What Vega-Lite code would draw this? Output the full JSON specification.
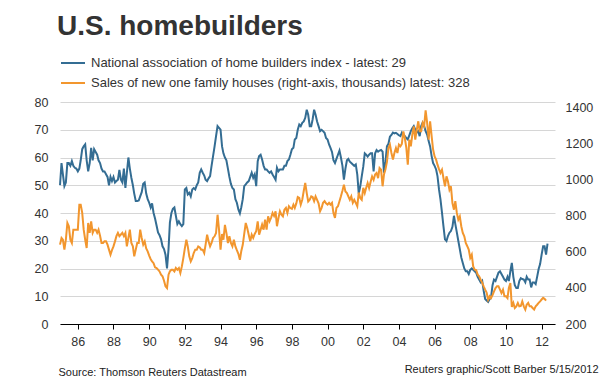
{
"$schema": "https://vega.github.io/schema/vega-lite/v6.json",
"width": 495,
"height": 222,
"autosize": {"type": "none"},
"padding": {"left": 60, "top": 102, "right": 56, "bottom": 60},
"background": "white",
"config": {"font": "Liberation Sans", "view": {"stroke": null}},
"title": {"text": "U.S. homebuilders", "anchor": "start", "frame": "group", "fontSize": 28, "fontWeight": "bold", "color": "#333333", "font": "Liberation Sans", "offset": 9, "dx": -3},
"data": {"values": [
{"d":"1985-01","h":50,"s":641},{"d":"1985-02","h":58,"s":678},{"d":"1985-03","h":54,"s":668},{"d":"1985-04","h":49.7,"s":613},{"d":"1985-05","h":51,"s":668},{"d":"1985-06","h":58,"s":761},{"d":"1985-07","h":58,"s":743},{"d":"1985-08","h":57,"s":668},{"d":"1985-09","h":58.7,"s":650},{"d":"1985-10","h":57,"s":724},{"d":"1985-11","h":56.3,"s":724},{"d":"1985-12","h":56,"s":724},
{"d":"1986-01","h":55,"s":724},{"d":"1986-02","h":56,"s":863},{"d":"1986-03","h":59,"s":863},{"d":"1986-04","h":63,"s":817},{"d":"1986-05","h":64,"s":724},{"d":"1986-06","h":64.7,"s":668},{"d":"1986-07","h":59,"s":622},{"d":"1986-08","h":55,"s":761},{"d":"1986-09","h":58,"s":706},{"d":"1986-10","h":63.5,"s":770},{"d":"1986-11","h":59,"s":706},{"d":"1986-12","h":63,"s":724},
{"d":"1987-01","h":62,"s":724},{"d":"1987-02","h":61,"s":706},{"d":"1987-03","h":59,"s":724},{"d":"1987-04","h":58,"s":690},{"d":"1987-05","h":56,"s":650},{"d":"1987-06","h":55,"s":650},{"d":"1987-07","h":55,"s":659},{"d":"1987-08","h":54,"s":659},{"d":"1987-09","h":53,"s":641},{"d":"1987-10","h":50,"s":613},{"d":"1987-11","h":53,"s":585},{"d":"1987-12","h":51.5,"s":610},
{"d":"1988-01","h":53,"s":631},{"d":"1988-02","h":51,"s":659},{"d":"1988-03","h":51.5,"s":688},{"d":"1988-04","h":52,"s":706},{"d":"1988-05","h":55.5,"s":688},{"d":"1988-06","h":52,"s":697},{"d":"1988-07","h":51,"s":706},{"d":"1988-08","h":56,"s":688},{"d":"1988-09","h":49,"s":706},{"d":"1988-10","h":54.5,"s":631},{"d":"1988-11","h":60,"s":678},{"d":"1988-12","h":56,"s":724},
{"d":"1989-01","h":52.7,"s":650},{"d":"1989-02","h":50,"s":631},{"d":"1989-03","h":47,"s":576},{"d":"1989-04","h":44.3,"s":613},{"d":"1989-05","h":44.3,"s":650},{"d":"1989-06","h":44.5,"s":650},{"d":"1989-07","h":46,"s":724},{"d":"1989-08","h":47.5,"s":678},{"d":"1989-09","h":50.5,"s":641},{"d":"1989-10","h":51,"s":659},{"d":"1989-11","h":47,"s":620},{"d":"1989-12","h":45,"s":603},
{"d":"1990-01","h":43.7,"s":580},{"d":"1990-02","h":42,"s":560},{"d":"1990-03","h":43.5,"s":548},{"d":"1990-04","h":40,"s":538},{"d":"1990-05","h":38,"s":515},{"d":"1990-06","h":35.5,"s":511},{"d":"1990-07","h":33,"s":502},{"d":"1990-08","h":32,"s":492},{"d":"1990-09","h":30.5,"s":474},{"d":"1990-10","h":28,"s":465},{"d":"1990-11","h":27,"s":440},{"d":"1990-12","h":25,"s":410},
{"d":"1991-01","h":20,"s":400},{"d":"1991-02","h":27,"s":474},{"d":"1991-03","h":36.5,"s":492},{"d":"1991-04","h":40,"s":501},{"d":"1991-05","h":41.5,"s":501},{"d":"1991-06","h":42,"s":492},{"d":"1991-07","h":39,"s":511},{"d":"1991-08","h":36,"s":501},{"d":"1991-09","h":37,"s":511},{"d":"1991-10","h":36,"s":483},{"d":"1991-11","h":35.3,"s":520},{"d":"1991-12","h":36,"s":566},
{"d":"1992-01","h":48.5,"s":620},{"d":"1992-02","h":49,"s":668},{"d":"1992-03","h":46.7,"s":631},{"d":"1992-04","h":47.3,"s":576},{"d":"1992-05","h":46,"s":548},{"d":"1992-06","h":48.5,"s":566},{"d":"1992-07","h":49,"s":594},{"d":"1992-08","h":48.5,"s":613},{"d":"1992-09","h":50,"s":613},{"d":"1992-10","h":51,"s":631},{"d":"1992-11","h":54.5,"s":625},{"d":"1992-12","h":55.7,"s":613},
{"d":"1993-01","h":54.5,"s":613},{"d":"1993-02","h":53.5,"s":594},{"d":"1993-03","h":52,"s":641},{"d":"1993-04","h":51.5,"s":696},{"d":"1993-05","h":52.5,"s":660},{"d":"1993-06","h":53.3,"s":631},{"d":"1993-07","h":57,"s":650},{"d":"1993-08","h":60.5,"s":678},{"d":"1993-09","h":64,"s":687},{"d":"1993-10","h":67.7,"s":706},{"d":"1993-11","h":71.3,"s":807},{"d":"1993-12","h":70.7,"s":724},
{"d":"1994-01","h":70,"s":613},{"d":"1994-02","h":64,"s":700},{"d":"1994-03","h":61.5,"s":668},{"d":"1994-04","h":60,"s":750},{"d":"1994-05","h":59,"s":706},{"d":"1994-06","h":56,"s":650},{"d":"1994-07","h":53,"s":687},{"d":"1994-08","h":50.5,"s":650},{"d":"1994-09","h":49,"s":631},{"d":"1994-10","h":48.5,"s":668},{"d":"1994-11","h":45,"s":631},{"d":"1994-12","h":43.7,"s":610},
{"d":"1995-01","h":41.3,"s":590},{"d":"1995-02","h":39.9,"s":557},{"d":"1995-03","h":42,"s":604},{"d":"1995-04","h":45,"s":640},{"d":"1995-05","h":49.7,"s":700},{"d":"1995-06","h":50.3,"s":761},{"d":"1995-07","h":51,"s":733},{"d":"1995-08","h":51.5,"s":696},{"d":"1995-09","h":53,"s":659},{"d":"1995-10","h":54.5,"s":696},{"d":"1995-11","h":52.7,"s":678},{"d":"1995-12","h":53.9,"s":700},
{"d":"1996-01","h":49.7,"s":715},{"d":"1996-02","h":58.7,"s":770},{"d":"1996-03","h":60.5,"s":696},{"d":"1996-04","h":61,"s":724},{"d":"1996-05","h":59.3,"s":752},{"d":"1996-06","h":57,"s":724},{"d":"1996-07","h":55.7,"s":780},{"d":"1996-08","h":55.7,"s":724},{"d":"1996-09","h":55,"s":798},{"d":"1996-10","h":54.5,"s":770},{"d":"1996-11","h":55,"s":790},{"d":"1996-12","h":53.9,"s":817},
{"d":"1997-01","h":53,"s":800},{"d":"1997-02","h":52,"s":826},{"d":"1997-03","h":56.3,"s":743},{"d":"1997-04","h":55,"s":789},{"d":"1997-05","h":55.7,"s":826},{"d":"1997-06","h":55.7,"s":807},{"d":"1997-07","h":55.7,"s":798},{"d":"1997-08","h":57,"s":835},{"d":"1997-09","h":57,"s":845},{"d":"1997-10","h":58.7,"s":817},{"d":"1997-11","h":59.3,"s":854},{"d":"1997-12","h":61,"s":844},
{"d":"1998-01","h":63,"s":840},{"d":"1998-02","h":63.5,"s":863},{"d":"1998-03","h":66.5,"s":845},{"d":"1998-04","h":67,"s":870},{"d":"1998-05","h":70,"s":905},{"d":"1998-06","h":71.9,"s":900},{"d":"1998-07","h":71.3,"s":863},{"d":"1998-08","h":72.5,"s":890},{"d":"1998-09","h":73,"s":940},{"d":"1998-10","h":74.3,"s":983},{"d":"1998-11","h":77.2,"s":927},{"d":"1998-12","h":75.4,"s":880},
{"d":"1999-01","h":71.3,"s":890},{"d":"1999-02","h":71.3,"s":909},{"d":"1999-03","h":73.7,"s":905},{"d":"1999-04","h":77.2,"s":882},{"d":"1999-05","h":75.4,"s":909},{"d":"1999-06","h":73,"s":890},{"d":"1999-07","h":71.3,"s":870},{"d":"1999-08","h":69.5,"s":826},{"d":"1999-09","h":70,"s":845},{"d":"1999-10","h":69.5,"s":873},{"d":"1999-11","h":68.9,"s":882},{"d":"1999-12","h":67,"s":870},
{"d":"2000-01","h":66.5,"s":863},{"d":"2000-02","h":64.7,"s":873},{"d":"2000-03","h":63.5,"s":863},{"d":"2000-04","h":62,"s":873},{"d":"2000-05","h":59,"s":817},{"d":"2000-06","h":58,"s":789},{"d":"2000-07","h":59.5,"s":845},{"d":"2000-08","h":61,"s":854},{"d":"2000-09","h":62.5,"s":882},{"d":"2000-10","h":60,"s":909},{"d":"2000-11","h":57,"s":940},{"d":"2000-12","h":52,"s":974},
{"d":"2001-01","h":56,"s":936},{"d":"2001-02","h":59,"s":927},{"d":"2001-03","h":59.5,"s":909},{"d":"2001-04","h":58.5,"s":890},{"d":"2001-05","h":58,"s":909},{"d":"2001-06","h":57.5,"s":873},{"d":"2001-07","h":57,"s":890},{"d":"2001-08","h":57.5,"s":873},{"d":"2001-09","h":53.8,"s":854},{"d":"2001-10","h":47,"s":930},{"d":"2001-11","h":49.6,"s":900},{"d":"2001-12","h":53.2,"s":890},
{"d":"2002-01","h":56.7,"s":956},{"d":"2002-02","h":61.5,"s":927},{"d":"2002-03","h":61,"s":955},{"d":"2002-04","h":60.3,"s":983},{"d":"2002-05","h":61,"s":955},{"d":"2002-06","h":61.5,"s":990},{"d":"2002-07","h":61.5,"s":1020},{"d":"2002-08","h":55,"s":1001},{"d":"2002-09","h":61.5,"s":1030},{"d":"2002-10","h":62.7,"s":1039},{"d":"2002-11","h":62.1,"s":1010},{"d":"2002-12","h":62.5,"s":1066},
{"d":"2003-01","h":62.7,"s":1057},{"d":"2003-02","h":62.1,"s":965},{"d":"2003-03","h":54.5,"s":1030},{"d":"2003-04","h":58.5,"s":1060},{"d":"2003-05","h":64,"s":1100},{"d":"2003-06","h":65,"s":1178},{"d":"2003-07","h":67.5,"s":1196},{"d":"2003-08","h":68.1,"s":1150},{"d":"2003-09","h":69,"s":1113},{"d":"2003-10","h":68.7,"s":1150},{"d":"2003-11","h":68.9,"s":1178},{"d":"2003-12","h":68.5,"s":1150},
{"d":"2004-01","h":68,"s":1196},{"d":"2004-02","h":67.7,"s":1187},{"d":"2004-03","h":68.9,"s":1200},{"d":"2004-04","h":68,"s":1270},{"d":"2004-05","h":67.7,"s":1233},{"d":"2004-06","h":67,"s":1178},{"d":"2004-07","h":66.5,"s":1085},{"d":"2004-08","h":68,"s":1224},{"d":"2004-09","h":69.5,"s":1187},{"d":"2004-10","h":70.5,"s":1250},{"d":"2004-11","h":71.3,"s":1298},{"d":"2004-12","h":70,"s":1224},
{"d":"2005-01","h":69,"s":1280},{"d":"2005-02","h":69.5,"s":1326},{"d":"2005-03","h":67.7,"s":1270},{"d":"2005-04","h":71.3,"s":1270},{"d":"2005-05","h":72.5,"s":1317},{"d":"2005-06","h":71.3,"s":1300},{"d":"2005-07","h":69.5,"s":1387},{"d":"2005-08","h":68.3,"s":1317},{"d":"2005-09","h":65.9,"s":1224},{"d":"2005-10","h":64,"s":1326},{"d":"2005-11","h":60.5,"s":1243},{"d":"2005-12","h":58,"s":1169},
{"d":"2006-01","h":57,"s":1131},{"d":"2006-02","h":55.7,"s":1113},{"d":"2006-03","h":53.3,"s":1085},{"d":"2006-04","h":48.5,"s":1060},{"d":"2006-05","h":44.9,"s":1039},{"d":"2006-06","h":40.1,"s":1057},{"d":"2006-07","h":35.3,"s":1011},{"d":"2006-08","h":30.5,"s":965},{"d":"2006-09","h":29.9,"s":1020},{"d":"2006-10","h":31.7,"s":993},{"d":"2006-11","h":32.9,"s":946},{"d":"2006-12","h":33.5,"s":965},
{"d":"2007-01","h":35,"s":872},{"d":"2007-02","h":39,"s":835},{"d":"2007-03","h":36,"s":882},{"d":"2007-04","h":33,"s":817},{"d":"2007-05","h":30,"s":780},{"d":"2007-06","h":27,"s":798},{"d":"2007-07","h":24,"s":743},{"d":"2007-08","h":22,"s":706},{"d":"2007-09","h":20,"s":687},{"d":"2007-10","h":19,"s":650},{"d":"2007-11","h":19,"s":632},{"d":"2007-12","h":18,"s":613},
{"d":"2008-01","h":19.5,"s":567},{"d":"2008-02","h":20,"s":585},{"d":"2008-03","h":19.5,"s":520},{"d":"2008-04","h":19,"s":502},{"d":"2008-05","h":18.5,"s":500},{"d":"2008-06","h":17,"s":474},{"d":"2008-07","h":16,"s":465},{"d":"2008-08","h":15,"s":446},{"d":"2008-09","h":15.6,"s":430},{"d":"2008-10","h":12,"s":409},{"d":"2008-11","h":9,"s":391},{"d":"2008-12","h":8.5,"s":375},
{"d":"2009-01","h":8,"s":335},{"d":"2009-02","h":9,"s":354},{"d":"2009-03","h":9.5,"s":344},{"d":"2009-04","h":14,"s":360},{"d":"2009-05","h":16,"s":381},{"d":"2009-06","h":15.5,"s":400},{"d":"2009-07","h":17,"s":409},{"d":"2009-08","h":18.5,"s":409},{"d":"2009-09","h":19,"s":391},{"d":"2009-10","h":18,"s":372},{"d":"2009-11","h":17,"s":391},{"d":"2009-12","h":16,"s":354},
{"d":"2010-01","h":15.5,"s":354},{"d":"2010-02","h":17,"s":344},{"d":"2010-03","h":15.5,"s":400},{"d":"2010-04","h":19,"s":428},{"d":"2010-05","h":22,"s":295},{"d":"2010-06","h":17,"s":317},{"d":"2010-07","h":14,"s":289},{"d":"2010-08","h":13,"s":298},{"d":"2010-09","h":13,"s":317},{"d":"2010-10","h":15.5,"s":298},{"d":"2010-11","h":16.5,"s":300},{"d":"2010-12","h":16.2,"s":326},
{"d":"2011-01","h":16,"s":298},{"d":"2011-02","h":15,"s":280},{"d":"2011-03","h":17,"s":307},{"d":"2011-04","h":16,"s":317},{"d":"2011-05","h":16,"s":298},{"d":"2011-06","h":13.2,"s":298},{"d":"2011-07","h":15,"s":289},{"d":"2011-08","h":15,"s":280},{"d":"2011-09","h":14.4,"s":298},{"d":"2011-10","h":17,"s":307},{"d":"2011-11","h":19.8,"s":317},{"d":"2011-12","h":21.6,"s":326},
{"d":"2012-01","h":25,"s":336},{"d":"2012-02","h":28,"s":345},{"d":"2012-03","h":28,"s":340},{"d":"2012-04","h":25,"s":330},{"d":"2012-05","h":29,"s":null}
]},
"layer": [
{
"mark": {"type": "line", "strokeWidth": 2},
"encoding": {
"x": {"field": "d", "type": "temporal", "scale": {"domain": ["1985-01-01", "2012-10-01"]},
"axis": {"orient": "bottom", "format": "%y", "tickCount": {"interval": "year", "step": 2}, "grid": false, "domainColor": "#000000", "tickColor": "#000000", "tickSize": 5, "labelPadding": 6, "labelFontSize": 12.5, "labelColor": "#333333", "labelFont": "Liberation Sans", "title": "Source: Thomson Reuters Datastream", "titleX": -2, "titleY": 48, "titleAlign": "left", "titleBaseline": "middle", "titleFontSize": 11, "titleFontWeight": "normal", "titleColor": "#222222", "titleFont": "Liberation Sans"}},
"y": {"field": "h", "type": "quantitative", "scale": {"domain": [0, 80], "nice": false},
"axis": {"orient": "left", "values": [0, 10, 20, 30, 40, 50, 60, 70, 80], "grid": true, "gridColor": "#d6d6d6", "domain": false, "ticks": false, "labelPadding": 12, "labelFontSize": 12.5, "labelColor": "#333333", "labelFont": "Liberation Sans", "title": null}},
"color": {"datum": "National association of home builders index - latest: 29", "type": "nominal",
"scale": {"domain": ["National association of home builders index - latest: 29", "Sales of new one family houses (right-axis, thousands) latest: 328"], "range": ["#346d93", "#f2962e"]},
"legend": {"orient": "none", "legendX": 0, "legendY": -52, "direction": "vertical", "title": null, "symbolType": "stroke", "symbolStrokeWidth": 2, "symbolSize": 576, "labelFontSize": 13, "labelColor": "#333333", "labelFont": "Liberation Sans", "labelLimit": 0, "rowPadding": -8, "labelOffset": 5}}
}
},
{
"mark": {"type": "line", "strokeWidth": 2},
"encoding": {
"x": {"field": "d", "type": "temporal",
"axis": {"orient": "top", "labels": false, "ticks": false, "domain": false, "grid": false, "title": "Reuters graphic/Scott Barber 5/15/2012", "titleX": 538, "titleY": 267, "titleAlign": "right", "titleBaseline": "middle", "titleFontSize": 11, "titleFontWeight": "normal", "titleColor": "#222222", "titleFont": "Liberation Sans"}},
"y": {"field": "s", "type": "quantitative", "scale": {"domain": [200, 1433], "nice": false, "zero": false},
"axis": {"orient": "right", "values": [200, 400, 600, 800, 1000, 1200, 1400], "format": "d", "grid": false, "domain": false, "ticks": false, "labelPadding": 10, "labelFontSize": 12.5, "labelColor": "#333333", "labelFont": "Liberation Sans", "title": null}},
"color": {"datum": "Sales of new one family houses (right-axis, thousands) latest: 328", "type": "nominal"}
}
}
],
"resolve": {"scale": {"y": "independent"}, "axis": {"x": "independent"}}
}
